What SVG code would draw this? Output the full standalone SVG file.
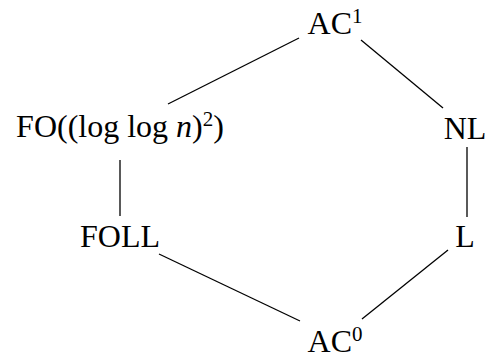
<svg xmlns="http://www.w3.org/2000/svg" width="486" height="358" viewBox="0 0 486 358">
<style>
text{font-family:"Liberation Serif","DejaVu Serif",serif;font-size:32px;fill:#000;text-anchor:middle}
.sup{font-size:21px}
.it{font-style:italic}
line{stroke:#000;stroke-width:1.3}
</style>
<rect width="486" height="358" fill="#fff"/>
<g id="edges">
<line x1="299" y1="38" x2="168" y2="104"/>
<line x1="361" y1="40" x2="443" y2="108"/>
<line x1="120" y1="160" x2="120" y2="216"/>
<line x1="467" y1="147" x2="467" y2="217"/>
<line x1="159" y1="254" x2="300" y2="321"/>
<line x1="448" y1="250" x2="362" y2="319"/>
</g>
<g id="AC1"><text x="335" y="34">AC<tspan class="sup" dy="-11">1</tspan></text></g>
<g id="FO"><text x="120" y="137">FO((log log <tspan class="it">n</tspan>)<tspan class="sup" dy="-11">2</tspan><tspan dy="11">)</tspan></text></g>
<g id="NL"><text x="465" y="139">NL</text></g>
<g id="FOLL"><text x="120" y="247">FOLL</text></g>
<g id="L"><text x="465" y="247">L</text></g>
<g id="AC0"><text x="335" y="352">AC<tspan class="sup" dy="-11">0</tspan></text></g>
</svg>
